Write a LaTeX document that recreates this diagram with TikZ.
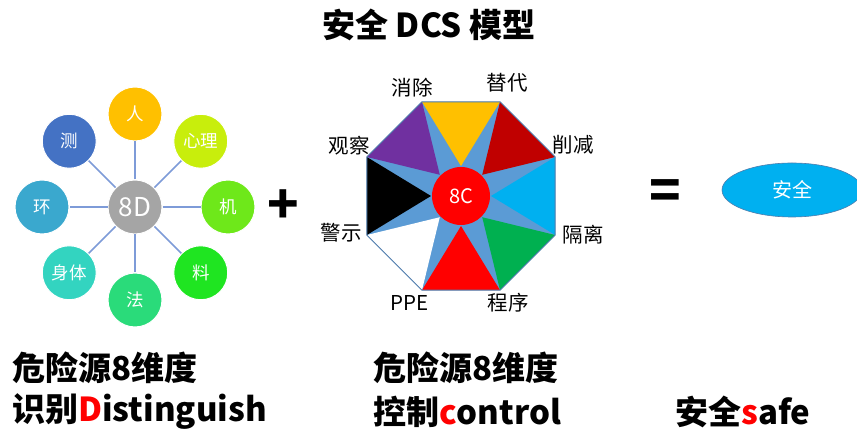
\documentclass[tikz,border=0pt]{standalone}
\usepackage{fontspec}
\setmainfont{Noto Sans CJK SC}
\usetikzlibrary{shapes.geometric}
\definecolor{dgray}{HTML}{A5A5A5}
\definecolor{dA}{HTML}{FFC000}
\definecolor{dB}{HTML}{C8EE0C}
\definecolor{dC}{HTML}{6EE81A}
\definecolor{dD}{HTML}{1FE521}
\definecolor{dE}{HTML}{2ADB7A}
\definecolor{dF}{HTML}{33D4C0}
\definecolor{dG}{HTML}{3AA8CE}
\definecolor{dH}{HTML}{4472C4}
\definecolor{spokeblue}{HTML}{7E9BD8}
\definecolor{cblue}{HTML}{5B9BD5}
\definecolor{cline}{HTML}{4F7CAC}
\definecolor{cyel}{HTML}{FFC000}
\definecolor{cdred}{HTML}{C00000}
\definecolor{ccyan}{HTML}{00B0F0}
\definecolor{cgreen}{HTML}{00B050}
\definecolor{cpurple}{HTML}{7030A0}
\definecolor{hot}{HTML}{FF0000}
\begin{document}
\begin{tikzpicture}[x=1pt, y=1pt,
    ball/.style={circle, minimum size=54pt, inner sep=0pt, draw=white, line width=1pt,
      text=white, font=\fontsize{17.5}{17.5}\selectfont},
    spoke/.style={draw=spokeblue, line width=1.5pt},
    tag/.style={font=\fontsize{20.5}{20.5}\selectfont},
    big/.style={font=\bfseries\fontsize{33}{33}\selectfont, anchor=west, inner sep=0pt}]

  \useasboundingbox (0,0) rectangle (857,436);
  \clip (0,0) rectangle (857,436);

  \node[font=\bfseries\fontsize{33}{33}\selectfont] (title) at (429,411) {安全 DCS 模型};

  % 8D
  \begin{scope}[shift={(135,229)}]
    \node[ball, fill=dgray, font=\fontsize{26}{26}\selectfont] (d8) at (0,0) {8D};
    \foreach \a/\t/\c [count=\i] in {90/人/dA, 45/心理/dB, 0/机/dC, -45/料/dD,
        -90/法/dE, -135/身体/dF, 180/环/dG, 135/测/dH}{
      \node[ball, fill=\c] (dk\i) at (\a:93) {\t};
      \draw[spoke] (d8) -- (dk\i);
    }
  \end{scope}

  \node[font=\bfseries\fontsize{52}{52}\selectfont] (plus) at (283,229) {+};

  % 8C
  \begin{scope}[shift={(461,240)}]
    \fill[cblue] (22.5:102) \foreach \a in {67.5,112.5,...,337.5}{-- (\a:102)} -- cycle;
    \foreach \m/\c in {90/cyel, 45/cdred, 0/ccyan, -45/cgreen, -90/hot, -135/white, 180/black, 135/cpurple}
      \fill[\c] (\m-22.5:102) -- (\m+22.5:102) -- (\m:30) -- cycle;
    \draw[cline, line width=1pt] (22.5:102) \foreach \a in {67.5,112.5,...,337.5}{-- (\a:102)} -- cycle;
    \node[circle, fill=hot, minimum size=58pt, inner sep=0pt, text=white,
      font=\fontsize{20}{20}\selectfont] (c8) at (0,0) {8C};
    \foreach \p/\t in {{(-49,108)}/消除, {(46,113)}/替代, {(112,51)}/削减, {(122,-39)}/隔离,
        {(47,-107)}/程序, {(-51,-107)}/PPE, {(-120,-37)}/警示, {(-112,50)}/观察}
      \node[tag] at \p {\t};
  \end{scope}

  \node[font=\bfseries\fontsize{52}{52}\selectfont] (equal) at (665,241) {=};
  \node[ellipse, fill=ccyan, draw=cline, line width=0.6pt, minimum width=140pt, minimum height=54pt,
    text=white, font=\fontsize{20}{20}\selectfont] (safe) at (792,246) {安全};

  % bottom lines
  \node[big] (r1a) at (12,68) {危险源8维度};
  \node[big] (r2a) at (12,24) {识别\textcolor{hot}{D}istinguish};
  \node[big] (r1b) at (373,68) {危险源8维度};
  \node[big] (r2b) at (373,24) {控制\textcolor{hot}{c}ontrol};
  \node[big] (r2c) at (675,24) {安全\textcolor{hot}{s}afe};
\end{tikzpicture}
\end{document}
